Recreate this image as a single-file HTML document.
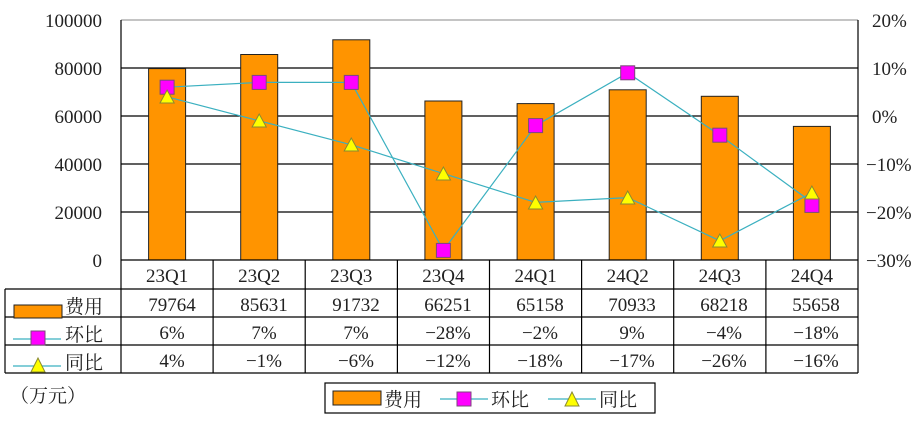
<!DOCTYPE html>
<html><head><meta charset="utf-8"><style>
body{margin:0;background:#fff}
svg text{font-family:"Liberation Serif","Noto Serif CJK SC",serif;fill:#222}
</style></head><body>
<svg width="923" height="440" viewBox="0 0 923 440" xmlns="http://www.w3.org/2000/svg">
<rect width="923" height="440" fill="#fff"/>
<!-- gridlines -->
<g stroke="#000" stroke-width="1.2">
<line x1="121" y1="68" x2="858" y2="68"/>
<line x1="121" y1="116" x2="858" y2="116"/>
<line x1="121" y1="164" x2="858" y2="164"/>
<line x1="121" y1="212" x2="858" y2="212"/>
</g>
<line x1="121" y1="20" x2="858" y2="20" stroke="#888" stroke-width="1"/>
<line x1="121" y1="20" x2="121" y2="260" stroke="#000" stroke-width="1.2"/>
<line x1="858" y1="20" x2="858" y2="260" stroke="#000" stroke-width="1.2"/>
<!-- bars -->
<g fill="#ff9400" stroke="#222" stroke-width="1">
<rect x="148.6" y="68.6" width="37" height="191.4"/>
<rect x="240.7" y="54.5" width="37" height="205.5"/>
<rect x="332.8" y="39.8" width="37" height="220.2"/>
<rect x="424.9" y="101" width="37" height="159"/>
<rect x="517.1" y="103.6" width="37" height="156.4"/>
<rect x="609.2" y="89.8" width="37" height="170.2"/>
<rect x="701.3" y="96.3" width="37" height="163.7"/>
<rect x="793.4" y="126.4" width="37" height="133.6"/>
</g>
<!-- lines -->
<polyline fill="none" stroke="#3bb0c0" stroke-width="1.2" points="167.1,87.2 259.2,82.4 351.3,82.4 443.4,250.4 535.6,125.6 627.7,72.8 719.8,135.2 811.9,202.4"/>
<polyline fill="none" stroke="#3bb0c0" stroke-width="1.2" points="167.1,96.8 259.2,120.8 351.3,144.8 443.4,173.6 535.6,202.4 627.7,197.6 719.8,240.8 811.9,192.8"/>
<g fill="#ff00ff" stroke="#7a4a7a" stroke-width="1">
<rect x="160.1" y="80.2" width="14" height="14"/>
<rect x="252.2" y="75.4" width="14" height="14"/>
<rect x="344.3" y="75.4" width="14" height="14"/>
<rect x="436.4" y="243.4" width="14" height="14"/>
<rect x="528.6" y="118.6" width="14" height="14"/>
<rect x="620.7" y="65.8" width="14" height="14"/>
<rect x="712.8" y="128.2" width="14" height="14"/>
<rect x="804.9" y="198.4" width="14" height="14"/>
</g>
<g fill="#ffff00" stroke="#8a8a30" stroke-width="1">
<polygon points="167.1,90 160,103 174.2,103"/>
<polygon points="259.2,114 252.1,127 266.3,127"/>
<polygon points="351.3,138 344.2,151 358.4,151"/>
<polygon points="443.4,167 436.3,180 450.5,180"/>
<polygon points="535.6,196 528.5,209 542.7,209"/>
<polygon points="627.7,191 620.6,204 634.8,204"/>
<polygon points="719.8,234 712.7,247 726.9,247"/>
<polygon points="811.9,186 804.8,199 819,199"/>
</g>
<!-- left axis labels -->
<g font-size="19" text-anchor="end">
<text x="102" y="27">100000</text>
<text x="102" y="75">80000</text>
<text x="102" y="123">60000</text>
<text x="102" y="171">40000</text>
<text x="102" y="219">20000</text>
<text x="102" y="267">0</text>
</g>
<g font-size="19" text-anchor="start">
<text x="872" y="27">20%</text>
<text x="872" y="75">10%</text>
<text x="872" y="123">0%</text>
<text x="866" y="171">−10%</text>
<text x="866" y="219">−20%</text>
<text x="866" y="267">−30%</text>
</g>
<!-- table -->
<g stroke="#000" stroke-width="1.2" fill="none">
<line x1="121" y1="260" x2="858" y2="260"/>
<line x1="5" y1="289" x2="858" y2="289"/>
<line x1="5" y1="317" x2="858" y2="317"/>
<line x1="5" y1="345" x2="858" y2="345"/>
<line x1="5" y1="373" x2="858" y2="373"/>
<line x1="5" y1="289" x2="5" y2="373"/>
<line x1="121" y1="260" x2="121" y2="373"/>
<line x1="213.1" y1="260" x2="213.1" y2="373"/>
<line x1="305.2" y1="260" x2="305.2" y2="373"/>
<line x1="397.4" y1="260" x2="397.4" y2="373"/>
<line x1="489.5" y1="260" x2="489.5" y2="373"/>
<line x1="581.6" y1="260" x2="581.6" y2="373"/>
<line x1="673.7" y1="260" x2="673.7" y2="373"/>
<line x1="765.9" y1="260" x2="765.9" y2="373"/>
<line x1="858" y1="260" x2="858" y2="373"/>
</g>
<g font-size="19" text-anchor="middle">
<text x="167.1" y="282">23Q1</text><text x="259.2" y="282">23Q2</text><text x="351.3" y="282">23Q3</text><text x="443.4" y="282">23Q4</text>
<text x="535.6" y="282">24Q1</text><text x="627.7" y="282">24Q2</text><text x="719.8" y="282">24Q3</text><text x="811.9" y="282">24Q4</text>
<text x="172" y="311">79764</text><text x="264" y="311">85631</text><text x="356" y="311">91732</text><text x="448" y="311">66251</text>
<text x="540" y="311">65158</text><text x="632" y="311">70933</text><text x="724" y="311">68218</text><text x="816" y="311">55658</text>
<text x="172" y="339">6%</text><text x="264" y="339">7%</text><text x="356" y="339">7%</text><text x="448" y="339">−28%</text>
<text x="540" y="339">−2%</text><text x="632" y="339">9%</text><text x="724" y="339">−4%</text><text x="816" y="339">−18%</text>
<text x="172" y="367">4%</text><text x="264" y="367">−1%</text><text x="356" y="367">−6%</text><text x="448" y="367">−12%</text>
<text x="540" y="367">−18%</text><text x="632" y="367">−17%</text><text x="724" y="367">−26%</text><text x="816" y="367">−16%</text>
</g>
<!-- row legends -->
<rect x="14" y="305" width="48" height="13" fill="#ff9400" stroke="#222"/>
<line x1="13" y1="339" x2="61" y2="339" stroke="#3bb0c0" stroke-width="1.2"/>
<rect x="31" y="331" width="14" height="14" fill="#ff00ff" stroke="#7a4a7a"/>
<line x1="13" y1="366" x2="61" y2="366" stroke="#3bb0c0" stroke-width="1.2"/>
<polygon points="38,358 31,372 45,372" fill="#ffff00" stroke="#8a8a30"/>
<g font-size="19"><text x="65" y="313">费用</text><text x="65" y="341">环比</text><text x="65" y="369">同比</text></g>
<text x="10" y="402" font-size="19">（万元）</text>
<!-- bottom legend -->
<rect x="325" y="383" width="330" height="30" fill="#fff" stroke="#000" stroke-width="1.2"/>
<rect x="333" y="391" width="48" height="14" fill="#ff9400" stroke="#222"/>
<line x1="440" y1="399" x2="488" y2="399" stroke="#3bb0c0" stroke-width="1.2"/>
<rect x="457" y="392" width="14" height="14" fill="#ff00ff" stroke="#7a4a7a"/>
<line x1="548" y1="399" x2="596" y2="399" stroke="#3bb0c0" stroke-width="1.2"/>
<polygon points="572,392 565,406 579,406" fill="#ffff00" stroke="#8a8a30"/>
<g font-size="19"><text x="384" y="406">费用</text><text x="491" y="406">环比</text><text x="599" y="406">同比</text></g>
</svg>
</body></html>
